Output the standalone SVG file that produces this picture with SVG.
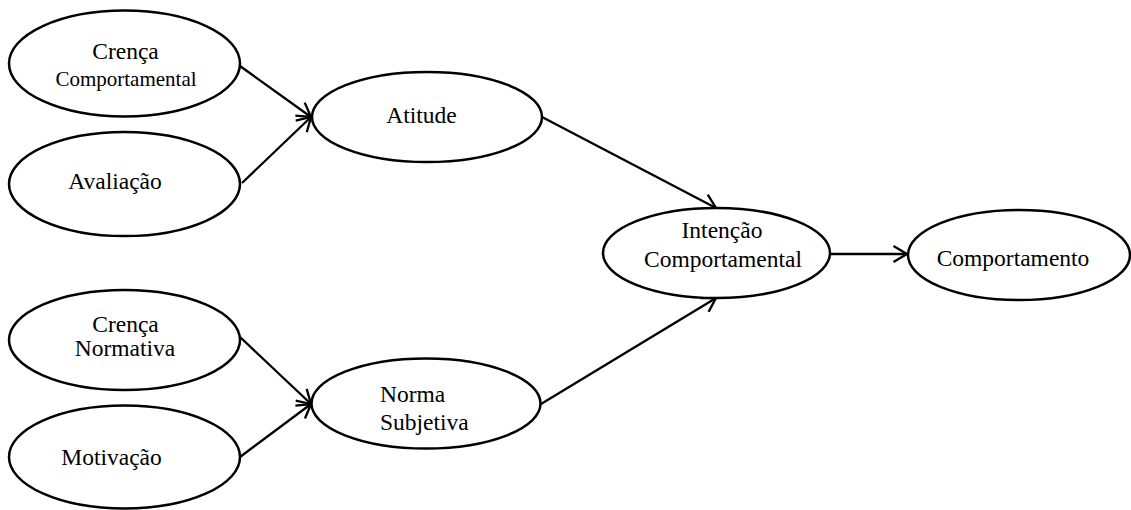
<svg xmlns="http://www.w3.org/2000/svg" width="1131" height="510" viewBox="0 0 1131 510">
<style>
.n{fill:#fff;stroke:#000;stroke-width:2.5}
.t{font-family:"Liberation Serif","Times New Roman",serif;font-size:23.5px;fill:#000}
.s{font-size:21px}
.c{stroke:#000;stroke-width:2.3;fill:none;marker-end:url(#a)}
</style>
<defs>
<marker id="a" viewBox="0 0 16 18" refX="15" refY="9" markerWidth="16" markerHeight="18" markerUnits="userSpaceOnUse" orient="auto">
<path d="M1.5,1 L15,9 L1.5,17" fill="none" stroke="#000" stroke-width="2.3"/>
</marker>
</defs>
<rect width="1131" height="510" fill="#fff"/>
<g id="connectors">
<line class="c" x1="240" y1="66" x2="311" y2="117"/>
<line class="c" x1="242" y1="183" x2="311" y2="117"/>
<line class="c" x1="240" y1="337" x2="311" y2="404"/>
<line class="c" x1="240" y1="457" x2="311" y2="404"/>
<line class="c" x1="542" y1="117" x2="716" y2="208"/>
<line class="c" x1="541" y1="404" x2="716" y2="298"/>
<line class="c" x1="830" y1="254" x2="907" y2="254"/>
</g>
<g id="crenca-comportamental">
<ellipse class="n" cx="124.5" cy="63.5" rx="115.5" ry="53"/>
<text class="t" x="125.5" y="59" text-anchor="middle">Crença</text>
<text class="t s" x="126" y="86" text-anchor="middle">Comportamental</text>
</g>
<g id="avaliacao">
<ellipse class="n" cx="124.5" cy="184" rx="115.5" ry="52"/>
<text class="t" x="115" y="189" text-anchor="middle">Avaliação</text>
</g>
<g id="crenca-normativa">
<ellipse class="n" cx="124.5" cy="340" rx="115.5" ry="50"/>
<text class="t" x="125.5" y="332" text-anchor="middle">Crença</text>
<text class="t" x="125" y="356" text-anchor="middle">Normativa</text>
</g>
<g id="motivacao">
<ellipse class="n" cx="124.5" cy="457" rx="115.5" ry="51.5"/>
<text class="t" x="111.5" y="465" text-anchor="middle">Motivação</text>
</g>
<g id="atitude">
<ellipse class="n" cx="427" cy="117" rx="115" ry="45"/>
<text class="t" x="421.5" y="123" text-anchor="middle">Atitude</text>
</g>
<g id="norma-subjetiva">
<ellipse class="n" cx="426" cy="403.5" rx="114.5" ry="45"/>
<text class="t" x="380" y="402">Norma</text>
<text class="t" x="380" y="430">Subjetiva</text>
</g>
<g id="intencao-comportamental">
<ellipse class="n" cx="716.5" cy="253" rx="113.5" ry="45"/>
<text class="t" x="722" y="238" text-anchor="middle">Intenção</text>
<text class="t" x="723" y="267" text-anchor="middle">Comportamental</text>
</g>
<g id="comportamento">
<ellipse class="n" cx="1019" cy="255" rx="111" ry="45"/>
<text class="t" x="1013" y="266" text-anchor="middle">Comportamento</text>
</g>
</svg>
